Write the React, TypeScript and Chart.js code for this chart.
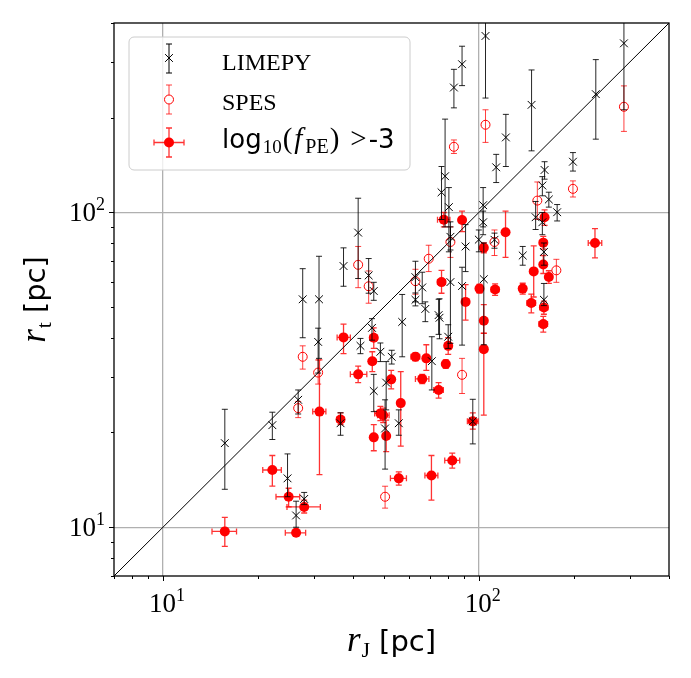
import React, { useEffect, useRef } from "react";
import { Chart, registerables } from "chart.js";

Chart.register(...registerables);

// LIMEPY fits: Jacobi radius, truncation radius and its lower / upper bounds [pc]
const limepyRJ = [15.7, 22.2, 26.8, 24.8, 28.0, 26.4, 27.7, 31.2, 31.0, 36.5, 37.3, 41.5, 42.2, 44.8, 46.5, 45.9, 48.8, 46.5, 50.5, 50.9, 53.0, 55.8, 57.2, 63.0, 63.0, 66.2, 67.7, 71.0, 74.6, 75.1, 76.2, 78.2, 80.4, 81.3, 81.3, 80.0, 83.4, 88.5, 88.5, 90.8, 95.7, 100, 103.2, 103.2, 103.7, 105.0, 112.1, 113.5, 121.8, 137.7, 146.9, 151.3, 158.9, 161.5, 166.6, 177, 198.6, 234.6, 288, 158.9, 160.7, 160.7];
const limepyRt = [18.5, 21.1, 25.4, 14.3, 12.3, 10.9, 53.0, 53.0, 38.8, 21.4, 67.6, 86.3, 37.7, 63.1, 56.3, 43.0, 36.1, 27.1, 20.6, 28.8, 34.8, 21.4, 44.9, 62.3, 52.8, 57.8, 49.4, 33.7, 47.2, 46.3, 115.9, 130.4, 104, 60.1, 83.7, 40.3, 249.5, 295.9, 58.4, 78.0, 21.7, 82.0, 105.5, 93.1, 61.4, 363.8, 81.9, 139.2, 173.2, 73.0, 219.8, 96.6, 121.8, 136.5, 110, 100.2, 145, 237.7, 344.7, 93.1, 74.9, 52.8];
const limepyRtLow = [13.2, 19.0, 22.9, 12.5, 11.8, 10.0, 40.0, 34.4, 30.9, 19.6, 58.3, 61.7, 35.6, 55.4, 52.6, 39.3, 33.6, 23.3, 15.3, 23.6, 33.0, 19.6, 34.8, 52.0, 50.5, 51.3, 45.0, 27.3, 41.0, 39.7, 95, 90, 75, 38.4, 76, 37.0, 215, 253, 37.9, 64.9, 18.4, 75, 90, 85, 38, 231, 77, 124.5, 140, 68, 157, 88.3, 113, 127.6, 104, 94, 135.4, 171, 212, 85, 68, 50.6];
const limepyRtHigh = [23.7, 23.2, 27.3, 17.1, 12.9, 12.1, 66.3, 72.6, 42.9, 23.1, 77.2, 111, 39.8, 71.4, 60.0, 46.0, 38.5, 30.6, 25.4, 33.6, 36.5, 23.6, 54.9, 70.0, 55.5, 64.6, 52.0, 40.3, 53.0, 53.2, 140, 198, 120, 93.4, 90, 44.0, 285, 337.5, 67.0, 91.5, 25.5, 88, 120, 101, 80, 440, 86, 153, 205, 78, 283.7, 108.4, 130, 145, 116, 106, 155, 306, 440, 100, 80, 59.5];

// SPES fits
const spesRJ = [26.8, 27.7, 31.0, 41.5, 44.8, 50.5, 63.0, 69.4, 81.3, 83.4, 88.5, 105.0, 112.1, 153.2, 176, 198.6, 288];
const spesRt = [23.9, 34.8, 31.0, 68.2, 58.3, 12.5, 60.5, 71.3, 80.6, 161.7, 30.5, 190, 80.6, 109.1, 65.5, 118.9, 216.7];
const spesRtLow = [22.3, 31.8, 28.5, 57.7, 51.5, 11.5, 55.0, 64.9, 72.0, 154, 26.6, 167, 73, 95, 60, 112, 181];
const spesRtHigh = [25.1, 37.7, 34.0, 78.0, 65.2, 13.5, 66.0, 78.7, 90.0, 170, 34.4, 212, 88, 125, 71, 126, 252.5];

// Clusters with log10(f_PE) > -3
const peRJ = [15.7, 22.2, 25.0, 28.0, 26.4, 31.3, 36.5, 37.3, 41.5, 46.5, 46.0, 46.5, 48.8, 49.8, 50.9, 52.8, 55.8, 56.6, 63.0, 66.2, 68.2, 70.8, 74.6, 76.2, 77.5, 78.6, 80.0, 82.4, 88.5, 90.8, 95.7, 100.5, 103.7, 103.7, 103.7, 112.6, 121.5, 137.7, 146.6, 149.2, 160.7, 161.5, 160.0, 160.0, 160.0, 166.6, 233.2];
const peRJLow = [14.3, 20.7, 22.8, 24.7, 24.4, 29.8, 35.5, 35.6, 39.2, 45.3, 45.0, 45.5, 46.8, 47.8, 49.9, 51.6, 52.5, 55.6, 61.0, 63.0, 67.0, 67.5, 72.0, 74.0, 74.0, 77.6, 78.0, 78.0, 87.0, 89.5, 92.0, 98.5, 101.5, 101.5, 101.5, 109.5, 119.5, 135.5, 142.0, 147.0, 156.0, 158.5, 157.5, 157.5, 155.0, 163.0, 222.0];
const peRJHigh = [17.1, 23.7, 27.1, 31.5, 28.3, 32.8, 37.5, 39.2, 44.2, 47.7, 47.0, 47.5, 50.8, 52.0, 51.9, 54.0, 59.0, 57.6, 65.0, 69.5, 69.4, 74.2, 77.2, 78.4, 81.0, 79.6, 82.0, 87.0, 90.0, 92.1, 99.5, 102.5, 105.9, 105.9, 105.9, 115.7, 123.5, 139.9, 151.2, 151.4, 165.4, 164.5, 162.5, 162.5, 165.0, 170.2, 245.0];
const peRt = [9.7, 15.2, 12.5, 11.6, 9.6, 23.3, 22.0, 40.1, 30.6, 40.0, 33.7, 19.3, 23.0, 22.7, 19.5, 29.5, 14.3, 24.8, 34.8, 29.6, 34.4, 14.6, 27.3, 60.1, 94.9, 33.0, 37.7, 16.3, 94.6, 52.0, 21.7, 57.3, 77.3, 45.3, 36.8, 56.9, 86.6, 57.3, 51.6, 65.0, 49.9, 96.6, 80.2, 68.4, 44.2, 62.4, 80.0];
const peRtLow = [8.7, 13.5, 11.6, 11.1, 9.35, 14.7, 21.2, 35.6, 28.8, 37.0, 31.2, 17.5, 21.8, 21.5, 17.4, 27.5, 13.6, 18.1, 33.8, 28.6, 31.5, 12.2, 25.7, 55.4, 90.0, 32.0, 35.4, 15.4, 87.0, 45.5, 20.5, 55.5, 74.5, 41.4, 22.7, 54.5, 72.0, 55.0, 48.0, 53.9, 47.5, 91.0, 76.5, 64.0, 41.7, 59.5, 71.8];
const peRtHigh = [10.75, 16.9, 13.3, 12.2, 9.85, 34.0, 23.1, 44.2, 32.5, 43.0, 36.1, 21.2, 24.2, 23.9, 21.9, 31.5, 15.0, 31.2, 35.8, 30.6, 38.0, 16.9, 28.8, 65.5, 100, 34.0, 40.0, 17.2, 101, 59.0, 23.1, 59.1, 80.1, 51.0, 41.3, 59.3, 101, 59.6, 55.0, 78.3, 52.3, 102, 84.0, 73.0, 46.8, 65.3, 88.9];

// Axis range and tick positions
const axisMin = 7;
const axisMax = 400;
const majorTicks = [10, 100];
const majorTickExp = ["1", "2"];
const minorTicks = [7, 8, 9, 20, 30, 40, 50, 60, 70, 80, 90, 200, 300, 400];

const SERIF = '"Liberation Serif", "DejaVu Serif", serif';
const SANS = '"DejaVu Sans", sans-serif';

type Run = { text: string; font: string; dy?: number; gap?: number };

function drawRuns(ctx: CanvasRenderingContext2D, runs: Run[], x: number, y: number, align: "left" | "center" | "right") {
  const widths = runs.map((r) => {
    ctx.font = r.font;
    return ctx.measureText(r.text).width;
  });
  const total = widths.reduce((a, w, i) => a + w + (runs[i].gap || 0), 0);
  let cx = align === "left" ? x : align === "center" ? x - total / 2 : x - total;
  runs.forEach((r, i) => {
    ctx.font = r.font;
    ctx.fillText(r.text, cx, y + (r.dy || 0));
    cx += widths[i] + (r.gap || 0);
  });
}

function vBar(ctx: CanvasRenderingContext2D, x: number, y0: number, y1: number, cap: number) {
  ctx.beginPath();
  ctx.moveTo(x, y0);
  ctx.lineTo(x, y1);
  ctx.moveTo(x - cap, y0);
  ctx.lineTo(x + cap, y0);
  ctx.moveTo(x - cap, y1);
  ctx.lineTo(x + cap, y1);
  ctx.stroke();
}

function hBar(ctx: CanvasRenderingContext2D, y: number, x0: number, x1: number, cap: number) {
  ctx.beginPath();
  ctx.moveTo(x0, y);
  ctx.lineTo(x1, y);
  ctx.moveTo(x0, y - cap);
  ctx.lineTo(x0, y + cap);
  ctx.moveTo(x1, y - cap);
  ctx.lineTo(x1, y + cap);
  ctx.stroke();
}

// Error bars are drawn just before each dataset's markers
const errorBarPlugin = {
  id: "errorBars",
  beforeDatasetDraw(chart: any, args: any) {
    const ds = chart.data.datasets[args.index];
    if (!ds.errY) return;
    const { ctx, chartArea: a } = chart;
    const xs = chart.scales.x;
    const ys = chart.scales.y;
    ctx.save();
    ctx.beginPath();
    ctx.rect(a.left, a.top, a.right - a.left, a.bottom - a.top);
    ctx.clip();
    ctx.strokeStyle = ds.errColor;
    ctx.lineWidth = ds.errWidth;
    ds.data.forEach((p: any, i: number) => {
      const px = xs.getPixelForValue(p.x);
      const py = ys.getPixelForValue(p.y);
      const [lo, hi] = ds.errY[i];
      vBar(ctx, px, ys.getPixelForValue(hi), ys.getPixelForValue(lo), 3);
      if (ds.errX) {
        const [xl, xh] = ds.errX[i];
        hBar(ctx, py, xs.getPixelForValue(xl), xs.getPixelForValue(xh), 3);
      }
    });
    ctx.restore();
  },
};

// Frame, log ticks, tick labels, axis titles and legend
const decorPlugin = {
  id: "decor",
  afterDraw(chart: any) {
    const { ctx, chartArea: a } = chart;
    const xs = chart.scales.x;
    const ys = chart.scales.y;
    ctx.save();
    ctx.strokeStyle = "#000";
    ctx.fillStyle = "#000";

    // frame
    ctx.lineWidth = 1.3;
    ctx.strokeRect(a.left, a.top, a.right - a.left, a.bottom - a.top);

    // ticks
    ctx.lineWidth = 1;
    const tick = (v: number, len: number) => {
      const px = Math.round(xs.getPixelForValue(v)) + 0.5;
      ctx.beginPath();
      ctx.moveTo(px, a.bottom);
      ctx.lineTo(px, a.bottom + len);
      ctx.stroke();
      const py = Math.round(ys.getPixelForValue(v)) + 0.5;
      ctx.beginPath();
      ctx.moveTo(a.left, py);
      ctx.lineTo(a.left - len, py);
      ctx.stroke();
    };
    minorTicks.forEach((v) => tick(v, 3));
    majorTicks.forEach((v) => tick(v, 5));

    // tick labels 10^n
    ctx.textBaseline = "alphabetic";
    majorTicks.forEach((v, i) => {
      const runs: Run[] = [
        { text: "10", font: `27px ${SERIF}` },
        { text: majorTickExp[i], font: `18px ${SERIF}`, dy: -11 },
      ];
      drawRuns(ctx, runs, xs.getPixelForValue(v) + 4, 612, "center");
      drawRuns(ctx, runs, 105, ys.getPixelForValue(v) + 9, "right");
    });

    // axis titles
    const title = (sub: string): Run[] => [
      { text: "r", font: `italic 35px ${SERIF}`, gap: 1 },
      { text: sub, font: `22px ${SERIF}`, dy: 6, gap: 9 },
      { text: "[pc]", font: `29px ${SANS}` },
    ];
    drawRuns(ctx, title("J"), (a.left + a.right) / 2, 651, "center");
    ctx.save();
    ctx.translate(45, (a.top + a.bottom) / 2);
    ctx.rotate(-Math.PI / 2);
    drawRuns(ctx, title("t"), 0, 0, "center");
    ctx.restore();

    // legend
    const lx = 129, ly = 37, lw = 281, lh = 133;
    ctx.beginPath();
    ctx.roundRect(lx, ly, lw, lh, 5);
    ctx.fillStyle = "rgba(255,255,255,0.8)";
    ctx.fill();
    ctx.strokeStyle = "#cccccc";
    ctx.lineWidth = 1;
    ctx.stroke();

    const mx = 169;
    // LIMEPY entry
    ctx.strokeStyle = "#000";
    ctx.lineWidth = 1;
    vBar(ctx, mx, 44, 73, 3);
    const r = 5.5 * Math.SQRT1_2;
    ctx.beginPath();
    ctx.moveTo(mx - r, 58 - r);
    ctx.lineTo(mx + r, 58 + r);
    ctx.moveTo(mx - r, 58 + r);
    ctx.lineTo(mx + r, 58 - r);
    ctx.stroke();
    // SPES entry
    ctx.strokeStyle = "rgba(255,0,0,0.75)";
    vBar(ctx, mx, 85, 114, 3);
    ctx.strokeStyle = "#ff0000";
    ctx.fillStyle = "#fff";
    ctx.beginPath();
    ctx.arc(mx, 99.5, 4.5, 0, Math.PI * 2);
    ctx.fill();
    ctx.stroke();
    // f_PE entry
    ctx.strokeStyle = "rgba(255,0,0,0.8)";
    ctx.lineWidth = 1.3;
    vBar(ctx, mx, 128, 157, 3);
    hBar(ctx, 142.5, 154, 184, 3);
    ctx.fillStyle = "#ff0000";
    ctx.beginPath();
    ctx.arc(mx, 142.5, 5, 0, Math.PI * 2);
    ctx.fill();

    ctx.fillStyle = "#000";
    drawRuns(ctx, [{ text: "LIMEPY", font: `24px ${SERIF}` }], 222, 70, "left");
    drawRuns(ctx, [{ text: "SPES", font: `24px ${SERIF}` }], 222, 110, "left");
    drawRuns(
      ctx,
      [
        { text: "log", font: `26px ${SANS}`, gap: 1 },
        { text: "10", font: `19px ${SERIF}`, dy: 5, gap: 1 },
        { text: "(", font: `29px ${SERIF}`, gap: 2 },
        { text: "f", font: `italic 29px ${SERIF}`, gap: 3 },
        { text: "PE", font: `20px ${SERIF}`, dy: 5, gap: 1 },
        { text: ")", font: `29px ${SERIF}`, gap: 11 },
        { text: ">", font: `29px ${SERIF}`, gap: 2 },
        { text: "-3", font: `26px ${SANS}` },
      ],
      222,
      148,
      "left"
    );
    ctx.restore();
  },
};

export default function App() {
  const ref = useRef<HTMLCanvasElement | null>(null);

  useEffect(() => {
    if (!ref.current) return;
    const limepy = limepyRJ.map((x, i) => ({ x, y: limepyRt[i] }));
    const spes = spesRJ.map((x, i) => ({ x, y: spesRt[i] }));
    const pe = peRJ.map((x, i) => ({ x, y: peRt[i] }));

    const logAxis = () => ({
      type: "logarithmic" as const,
      min: axisMin,
      max: axisMax,
      afterBuildTicks: (s: any) => {
        s.ticks = majorTicks.map((value) => ({ value }));
      },
      ticks: { display: false },
      grid: { color: "#b0b0b0", lineWidth: 1.3, drawTicks: false },
      border: { display: false },
    });

    const chart = new Chart(ref.current, {
      type: "scatter",
      data: {
        datasets: [
          {
            type: "line",
            data: [
              { x: axisMin, y: axisMin },
              { x: axisMax, y: axisMax },
            ],
            borderColor: "#000",
            borderWidth: 1,
            pointRadius: 0,
            fill: false,
          } as any,
          {
            label: "LIMEPY",
            data: limepy,
            pointStyle: "crossRot",
            pointRadius: 5.5,
            borderColor: "#000",
            borderWidth: 1,
            backgroundColor: "rgba(0,0,0,0)",
            errY: limepyRt.map((_, i) => [limepyRtLow[i], limepyRtHigh[i]]),
            errColor: "rgba(0,0,0,0.85)",
            errWidth: 1,
          } as any,
          {
            label: "SPES",
            data: spes,
            pointStyle: "circle",
            pointRadius: 4.5,
            borderColor: "#ff0000",
            borderWidth: 1,
            backgroundColor: "rgba(255,255,255,0)",
            errY: spesRt.map((_, i) => [spesRtLow[i], spesRtHigh[i]]),
            errColor: "rgba(255,0,0,0.75)",
            errWidth: 1,
          } as any,
          {
            label: "log10(f_PE) > -3",
            data: pe,
            pointStyle: "circle",
            pointRadius: 5,
            borderWidth: 0,
            borderColor: "#ff0000",
            backgroundColor: "#ff0000",
            errY: peRt.map((_, i) => [peRtLow[i], peRtHigh[i]]),
            errX: peRJ.map((_, i) => [peRJLow[i], peRJHigh[i]]),
            errColor: "rgba(255,0,0,0.8)",
            errWidth: 1.3,
          } as any,
        ],
      },
      options: {
        responsive: false,
        animation: false,
        devicePixelRatio: 1,
        layout: { padding: { left: 114, top: 23, right: 22, bottom: 102 } },
        plugins: { legend: { display: false }, tooltip: { enabled: false } },
        events: [],
        scales: { x: logAxis() as any, y: logAxis() as any },
      },
      plugins: [errorBarPlugin, decorPlugin],
    });
    return () => chart.destroy();
  }, []);

  return (
    <div style={{ position: "fixed", left: 0, top: 0, width: 691, height: 678, background: "#fff" }}>
      <canvas ref={ref} width={691} height={678} style={{ display: "block" }} />
    </div>
  );
}
